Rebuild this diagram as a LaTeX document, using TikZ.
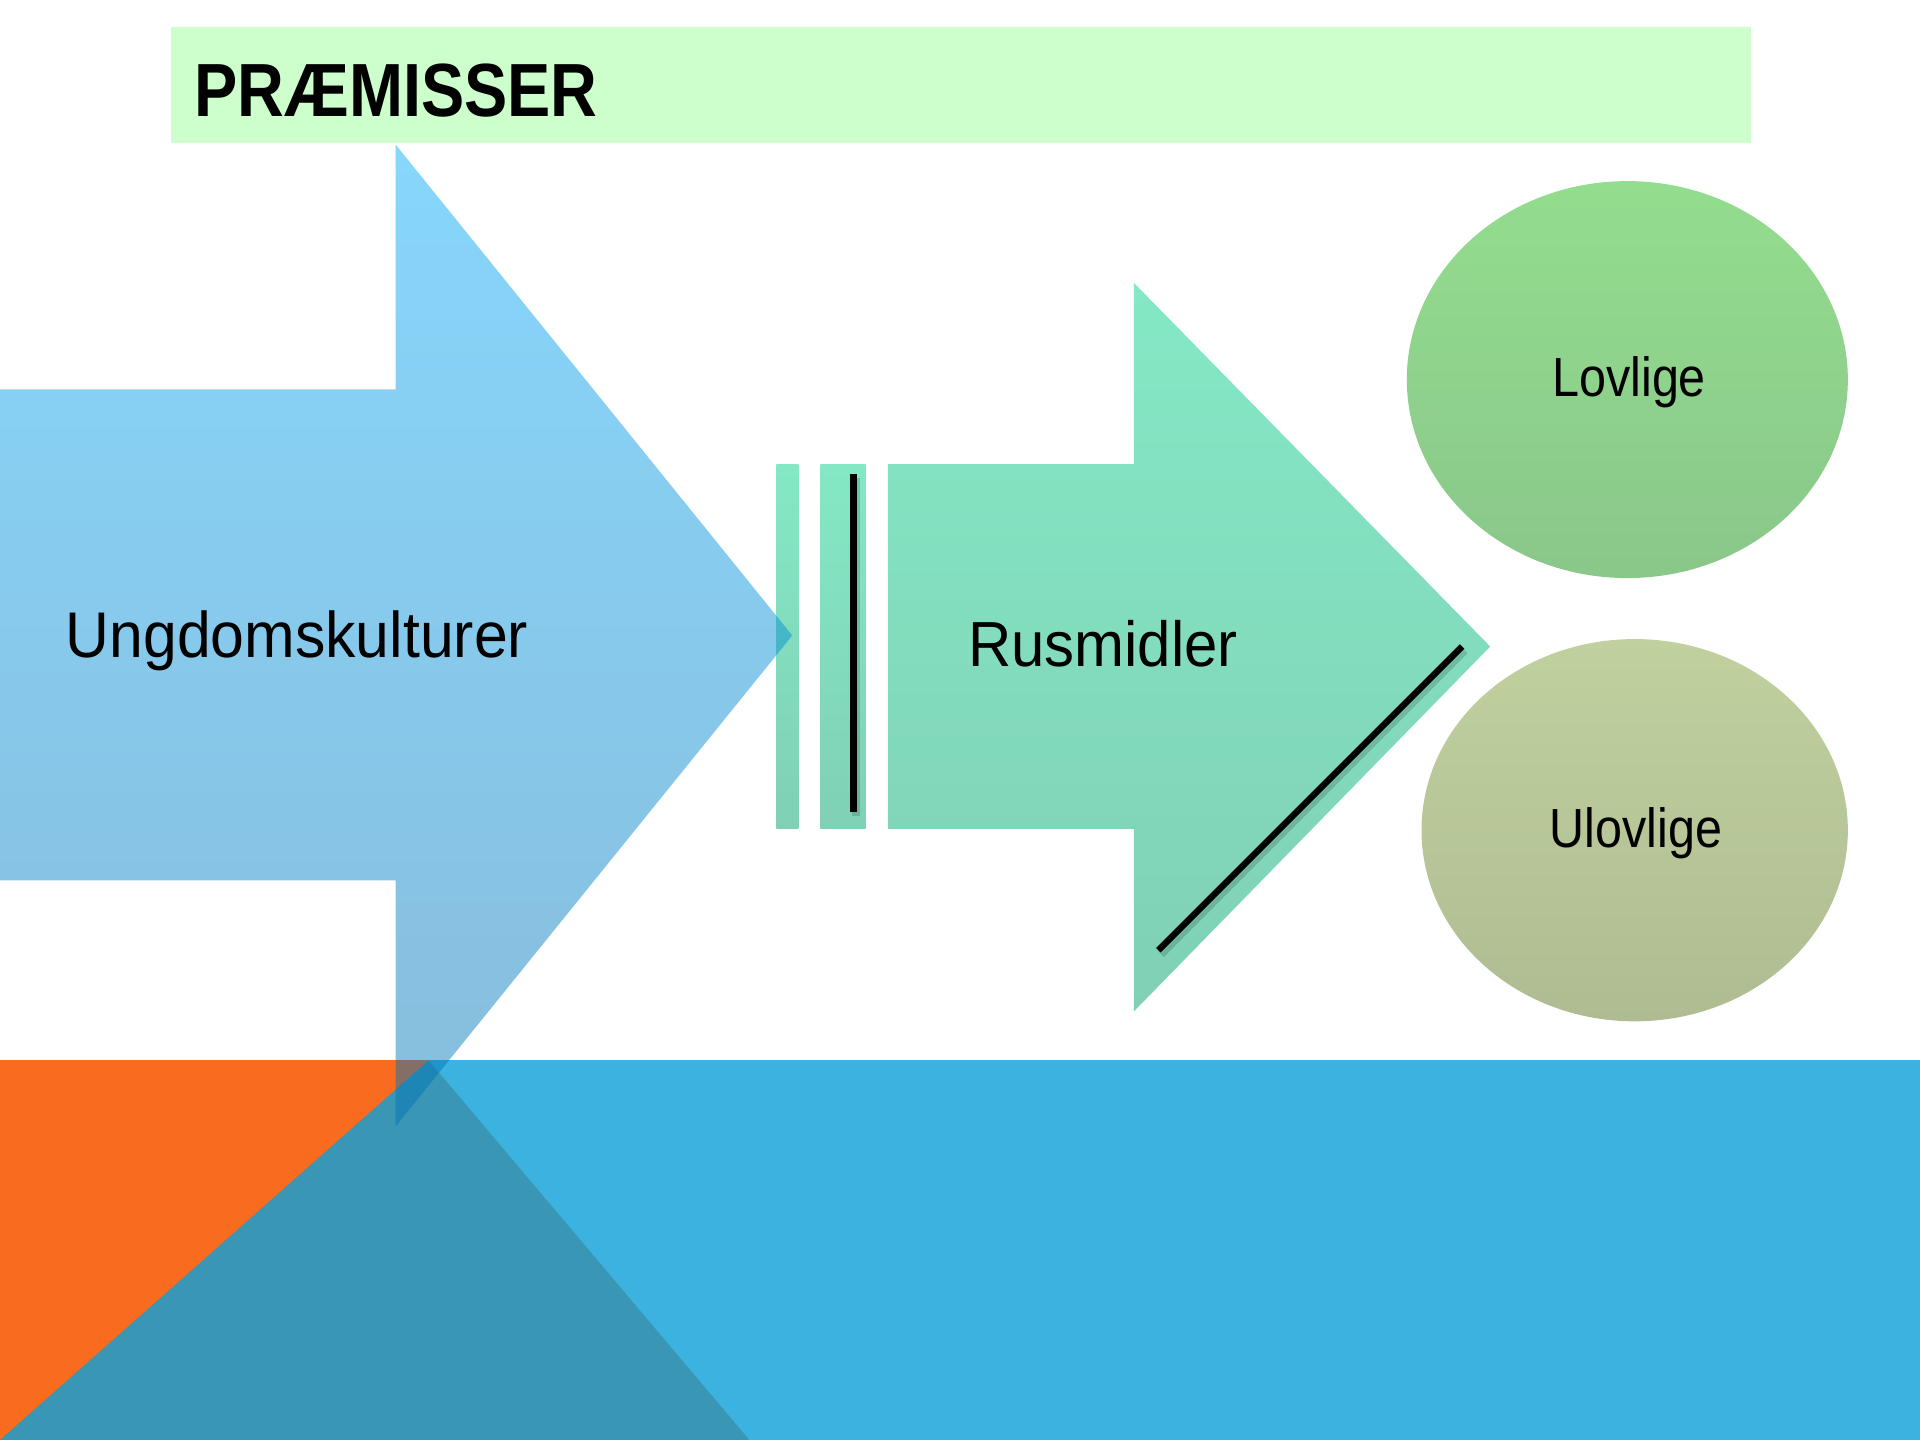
\documentclass[tikz,border=0pt]{standalone}
\usepackage{fontspec}
\setmainfont{Liberation Sans}
\usetikzlibrary{shapes.geometric}
\definecolor{hdrgreen}{HTML}{CCFFCC}
\definecolor{orng}{HTML}{F96B1E}
\definecolor{skyb}{HTML}{3BB2DF}
\definecolor{darktri}{HTML}{3996B4}
\definecolor{arrTop}{RGB}{0,168,248}
\definecolor{arrBot}{RGB}{0,114,180}
\definecolor{grTop}{HTML}{84E8C5}
\definecolor{grBot}{HTML}{80D0B5}
\definecolor{lovTop}{HTML}{93DD8E}
\definecolor{lovBot}{HTML}{8AC78A}
\definecolor{ulovTop}{HTML}{C0D09E}
\definecolor{ulovBot}{HTML}{AFBC92}
\tikzset{
  lbl/.style={anchor=base west, inner sep=0pt, text=black},
  blackbar/.style={draw=black, line width=1.5pt},
  shadowbar/.style={draw=black, line width=2pt, opacity=0.15},
  grpart/.style={top color=grTop, bottom color=grBot},
  oval/.style={ellipse, inner sep=0pt, draw=none}
}
\begin{document}
\begin{tikzpicture}[x=0.01cm,y=-0.01cm]
\useasboundingbox (0,0) rectangle (1568,1176);
% header
\fill[hdrgreen] (140,22) rectangle (1430,117);
\node[lbl] (title) at (158,95) {\fontsize{17.5}{20}\selectfont\bfseries\scalebox{0.86}[1]{PRÆMISSER}};
% bottom band
\fill[orng] (0,866) rectangle (351,1176);
\fill[skyb] (350,866) rectangle (1568,1176);
\fill[darktri] (0,1176) -- (350,866) -- (612,1176) -- cycle;
% green arrow (Rusmidler)
\shade[grpart] (634,379) rectangle (652,677);
\shade[grpart] (670,379) rectangle (707,677);
\shade[grpart] (725,379) -- (926,379) -- (926,231) -- (1217,528) -- (926,826) -- (926,677) -- (725,677) -- cycle;
% big blue arrow (transparent)
\shade[top color=arrTop, bottom color=arrBot, fill opacity=0.47]
  (0,318) -- (323,318) -- (323,118) -- (647,519) -- (323,920) -- (323,719) -- (0,719) -- cycle;
% ellipses
\node[oval, minimum width=3.6cm, minimum height=3.24cm, top color=lovTop, bottom color=lovBot] (lov) at (1329,310) {};
\node[oval, minimum width=3.48cm, minimum height=3.12cm, top color=ulovTop, bottom color=ulovBot] (ulov) at (1335,678) {};
% black lines with shadow
\coordinate (v1) at (697,387);
\coordinate (v2) at (697,663);
\coordinate (d1) at (946,776);
\coordinate (d2) at (1194,528);
\draw[shadowbar] ([shift={(2,3)}]v1) -- ([shift={(2,3)}]v2);
\draw[shadowbar] ([shift={(2,3)}]d1) -- ([shift={(2,3)}]d2);
\draw[blackbar] (v1) -- (v2);
\draw[blackbar] (d1) -- (d2);
% texts
\node[lbl] (ung) at (53,537) {\fontsize{15}{18}\selectfont\scalebox{0.94}[1]{Ungdomskulturer}};
\node[lbl] (rus) at (790,544) {\fontsize{14.8}{18}\selectfont\scalebox{0.94}[1]{Rusmidler}};
\node[lbl] (lovt) at (1267,324) {\fontsize{12.8}{15}\selectfont\scalebox{0.88}[1]{Lovlige}};
\node[lbl] (ulovt) at (1265,692) {\fontsize{12.8}{15}\selectfont\scalebox{0.88}[1]{Ulovlige}};
\end{tikzpicture}
\end{document}
